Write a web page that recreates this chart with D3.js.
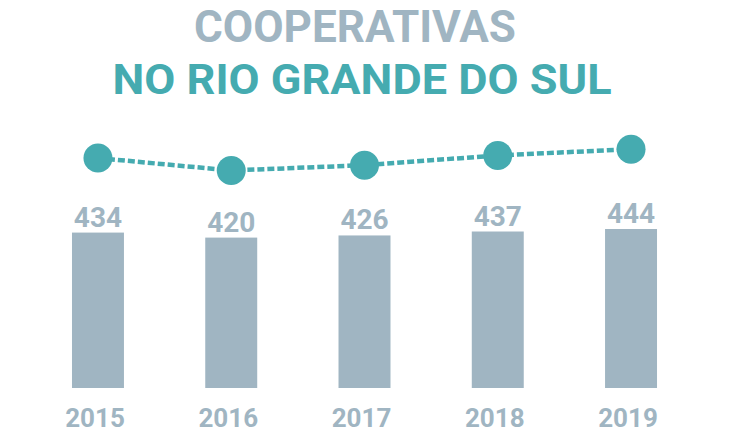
<!DOCTYPE html>
<html>
<head>
<meta charset="utf-8">
<script src="https://cdn.jsdelivr.net/npm/d3@7"></script>
<style>
  html, body { margin: 0; padding: 0; background: #ffffff; }
  svg { display: block; }
  text { font-family: Roboto, "Open Sans", sans-serif; font-weight: 700; }
</style>
</head>
<body>
<svg id="chart" width="730" height="440"></svg>
<script>
const years = ["2015", "2016", "2017", "2018", "2019"];
const values = [434, 420, 426, 437, 444];
const titleLine1 = "COOPERATIVAS";
const titleLine2 = "NO RIO GRANDE DO SUL";

const grey = "#a0b5c2";
const teal = "#45abb0";

const svg = d3.select("#chart");

// Titles
svg.append("text")
  .attr("x", 355).attr("y", 42)
  .attr("text-anchor", "middle")
  .attr("font-size", 45)
  .attr("textLength", 322).attr("lengthAdjust", "spacingAndGlyphs")
  .attr("fill", grey)
  .text(titleLine1);

svg.append("text")
  .attr("x", 362).attr("y", 94)
  .attr("text-anchor", "middle")
  .attr("font-size", 42)
  .attr("textLength", 499).attr("lengthAdjust", "spacingAndGlyphs")
  .attr("fill", teal)
  .text(titleLine2);

// Scales
const x = d3.scaleBand()
  .domain(years)
  .range([32, 697])
  .paddingInner(0.61)
  .paddingOuter(0.3);

const y = d3.scaleLinear()
  .domain([0, 444])
  .range([388, 229]);

const yLine = d3.scaleLinear()
  .domain([420, 444])
  .range([170.5, 149.2]);

const cx = d => x(d) + x.bandwidth() / 2;

// Bars
svg.append("g").selectAll("rect")
  .data(years)
  .join("rect")
  .attr("x", d => x(d))
  .attr("width", x.bandwidth())
  .attr("y", (d, i) => y(values[i]))
  .attr("height", (d, i) => y(0) - y(values[i]))
  .attr("fill", grey);

// Value labels
svg.append("g").selectAll("text")
  .data(years)
  .join("text")
  .attr("x", d => cx(d))
  .attr("y", (d, i) => y(values[i]) - 6)
  .attr("text-anchor", "middle")
  .attr("font-size", 28)
  .attr("fill", grey)
  .text((d, i) => values[i]);

// Year axis labels
const xAxis = d3.axisBottom(x).tickSize(0).tickPadding(0);
const axisG = svg.append("g")
  .attr("transform", "translate(-3, 0)")
  .call(xAxis);
axisG.select(".domain").remove();
axisG.selectAll("text")
  .attr("y", 427)
  .attr("dy", null)
  .attr("font-size", 26)
  .attr("font-family", "Roboto, 'Open Sans', sans-serif")
  .attr("font-weight", 700)
  .attr("fill", grey);

// Dashed line
const line = d3.line()
  .x((d, i) => cx(years[i]))
  .y(d => yLine(d));

svg.append("path")
  .datum(values)
  .attr("d", line)
  .attr("fill", "none")
  .attr("stroke", teal)
  .attr("stroke-width", 4.5)
  .attr("stroke-dasharray", "7,3");

// Circles
svg.append("g").selectAll("circle")
  .data(values)
  .join("circle")
  .attr("cx", (d, i) => cx(years[i]))
  .attr("cy", d => yLine(d))
  .attr("r", 14.5)
  .attr("fill", teal);
</script>
</body>
</html>
